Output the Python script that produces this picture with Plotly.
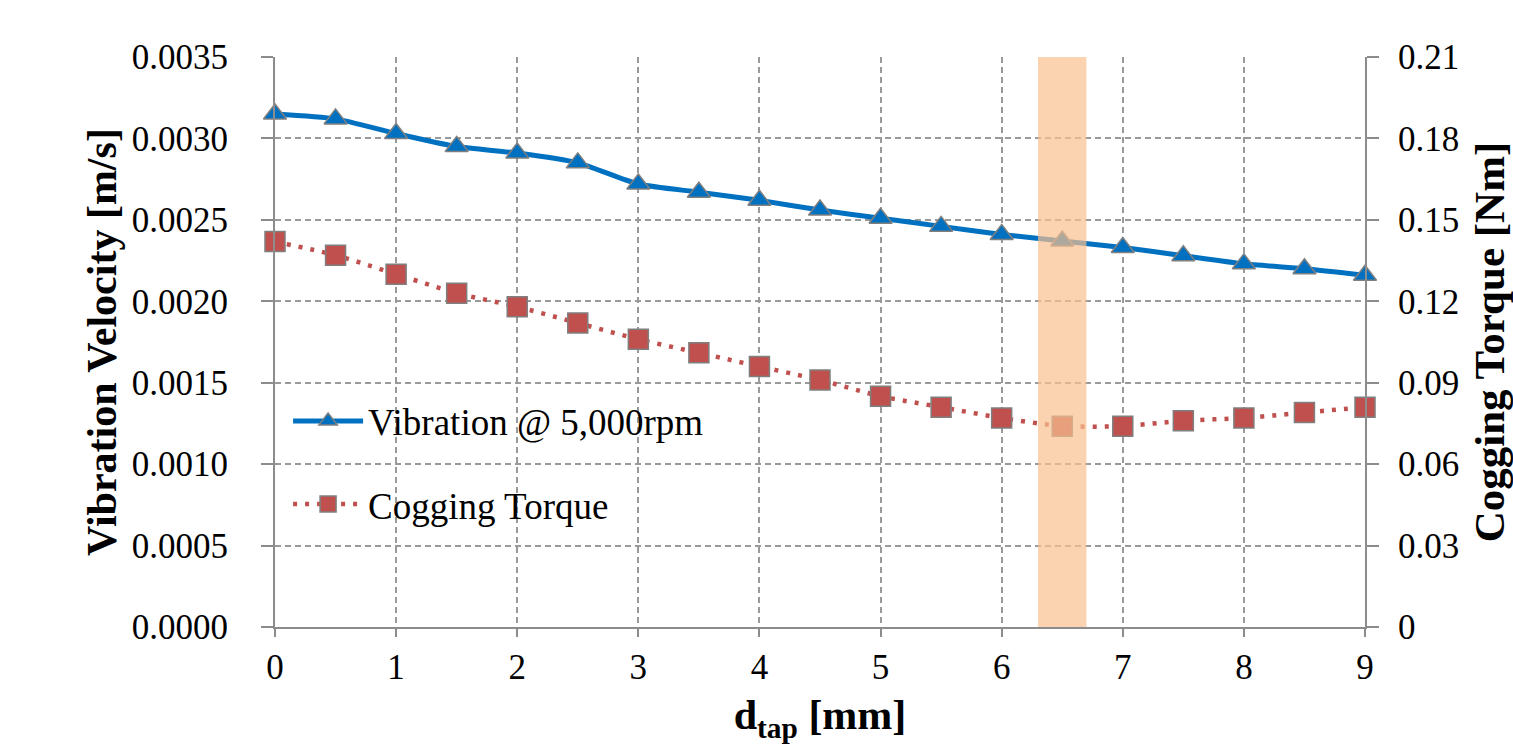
import plotly.graph_objects as go

# Tap depth d_tap [mm]
d_tap = [0, 0.5, 1, 1.5, 2, 2.5, 3, 3.5, 4, 4.5, 5, 5.5, 6, 6.5, 7, 7.5, 8, 8.5, 9]

# Vibration velocity at 5,000 rpm [m/s]
vibration = [0.00315, 0.00312, 0.00303, 0.00295, 0.00291, 0.00285, 0.00272,
             0.00267, 0.00262, 0.00256, 0.00251, 0.00246, 0.00241, 0.00237,
             0.00233, 0.00228, 0.00223, 0.00220, 0.00216]

# Cogging torque [Nm]
cogging = [0.142, 0.137, 0.130, 0.123, 0.118, 0.112, 0.106, 0.101, 0.096,
           0.091, 0.085, 0.081, 0.077, 0.074, 0.074, 0.076, 0.077, 0.079, 0.081]

# Highlighted d_tap range
band = [6.3, 6.7]

x_ticks = [0, 1, 2, 3, 4, 5, 6, 7, 8, 9]
right_ticks = [0, 0.03, 0.06, 0.09, 0.12, 0.15, 0.18, 0.21]
right_ticktext = ["0", "0.03", "0.06", "0.09", "0.12", "0.15", "0.18", "0.21"]

FONT = "Liberation Serif"
AXIS_GRAY = "#8c8c8c"
GRID_GRAY = "#9a9a9a"

fig = go.Figure()

fig.add_trace(go.Scatter(
    x=d_tap, y=vibration, name="Vibration @ 5,000rpm",
    mode="lines+markers", legendgroup="a",
    line=dict(color="#0070C0", width=5, shape="spline", smoothing=0.6),
    marker=dict(symbol="triangle-up", size=20, color="#0070C0",
                line=dict(color="#7f7f7f", width=1.5)),
    cliponaxis=False,
))

fig.add_trace(go.Scatter(
    x=d_tap, y=cogging, name="Cogging Torque", yaxis="y2",
    mode="lines+markers", legendgroup="b",
    line=dict(color="#C0504D", width=4.5, dash="4px,8px", shape="spline", smoothing=0.6),
    marker=dict(symbol="square", size=20, color="#C0504D",
                line=dict(color="#7f7f7f", width=1.5)),
    cliponaxis=False,
))

fig.add_shape(type="rect", xref="x", yref="paper", x0=band[0], x1=band[1], y0=0, y1=1,
              fillcolor="#FAC090", opacity=0.7, line=dict(width=0), layer="above")

fig.update_layout(
    width=1513, height=751,
    margin=dict(l=275, r=148, t=57, b=124),
    paper_bgcolor="white", plot_bgcolor="white",
    font=dict(family=FONT, size=35, color="black"),
    showlegend=True,
    legend=dict(x=0.012, y=0.415, xanchor="left", yanchor="top",
                bgcolor="rgba(0,0,0,0)", font=dict(size=37, family=FONT),
                traceorder="grouped", tracegroupgap=32, itemwidth=70),
    xaxis=dict(
        range=[0, 9], tickvals=x_ticks, showline=True, linecolor=AXIS_GRAY, linewidth=2,
        ticks="outside", ticklen=8, tickcolor=AXIS_GRAY, tickwidth=2,
        showgrid=True, gridcolor=GRID_GRAY, griddash="6px,4px", gridwidth=1.5,
        zeroline=False, ticklabelstandoff=0, automargin=False,
        tickfont=dict(size=35, family=FONT),
        title=dict(text="<b>d<sub>tap</sub> [mm]</b>", font=dict(size=42, family=FONT), standoff=14),
    ),
    yaxis=dict(
        range=[0, 0.0035], dtick=0.0005, tickformat=".4f",
        showline=True, linecolor=AXIS_GRAY, linewidth=2,
        ticks="outside", ticklen=12, tickcolor=AXIS_GRAY, tickwidth=2,
        showgrid=True, gridcolor=GRID_GRAY, griddash="6px,4px", gridwidth=1.5,
        zeroline=False, ticklabelstandoff=26, automargin=False,
        tickfont=dict(size=35, family=FONT),
        title=dict(text="<b>Vibration Velocity [m/s]</b>", font=dict(size=42, family=FONT), standoff=2),
    ),
    yaxis2=dict(
        overlaying="y", side="right", range=[0, 0.21],
        tickvals=right_ticks, ticktext=right_ticktext,
        showline=True, linecolor=AXIS_GRAY, linewidth=2,
        ticks="outside", ticklen=12, tickcolor=AXIS_GRAY, tickwidth=2,
        showgrid=False, zeroline=False, ticklabelstandoff=12, automargin=False,
        tickfont=dict(size=35, family=FONT),
        title=dict(text="<b>Cogging Torque [Nm]</b>", font=dict(size=43, family=FONT), standoff=18),
    ),
)

fig.write_html("out.html")
